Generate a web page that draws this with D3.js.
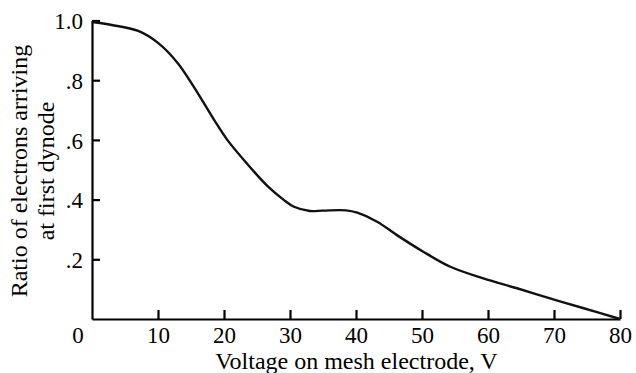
<!DOCTYPE html>
<html>
<head>
<meta charset="utf-8">
<script src="https://cdn.jsdelivr.net/npm/d3@7"></script>
<style>
  html, body { margin: 0; padding: 0; background: #fff; }
  svg { display: block; }
</style>
</head>
<body>
<svg id="chart" width="636" height="373"></svg>
<script>
// Data
const voltage = [0, 3, 7, 10, 13, 15.5, 18.5, 20.5, 23.5, 26.6, 29, 30.6, 33, 35, 38.5, 40.2, 43.2, 46.2, 50, 54.3, 59.3, 64.4, 69.4, 74.5, 80];
const ratio   = [0.995, 0.985, 0.965, 0.925, 0.857, 0.775, 0.667, 0.60, 0.52, 0.445, 0.40, 0.376, 0.362, 0.363, 0.364, 0.356, 0.326, 0.281, 0.228, 0.175, 0.136, 0.103, 0.069, 0.036, 0.0];
const xTicks = [10, 20, 30, 40, 50, 60, 70, 80];
const yTicks = [0.2, 0.4, 0.6, 0.8, 1.0];
const yTickLabels = [".2", ".4", ".6", ".8", "1.0"];
const xOriginLabel = "0";
const xTitle = "Voltage on mesh electrode, V";
const yTitleLines = ["Ratio of electrons arriving", "at first dynode"];

const SERIF = "'Liberation Serif', 'Times New Roman', serif";
const svg = d3.select("#chart");
const margin = { left: 92, right: 16, top: 20.5, bottom: 54 };
const W = 636, H = 373;

const x = d3.scaleLinear().domain([0, 80]).range([margin.left, W - margin.right]);
const y = d3.scaleLinear().domain([0, 1]).range([H - margin.bottom, margin.top]);

// X axis
const xAxis = d3.axisBottom(x)
  .tickValues(xTicks)
  .tickFormat(d3.format("d"))
  .tickSizeInner(-9)
  .tickSizeOuter(0)
  .tickPadding(6);
const gx = svg.append("g")
  .attr("transform", `translate(0,${y(0)})`)
  .call(xAxis)
  .attr("font-family", null).attr("font-size", null);
gx.select(".domain").attr("stroke", "#000").attr("stroke-width", 2.2);
gx.selectAll(".tick line").attr("stroke", "#000").attr("stroke-width", 2.2);
gx.selectAll(".tick text")
  .style("font-family", SERIF)
  .style("font-size", "23px")
  .attr("fill", "#000")
  .attr("y", 0).attr("dy", 24);

// origin label "0"
svg.append("text")
  .attr("x", x(0) - 14)
  .attr("y", y(0) + 24)
  .attr("text-anchor", "middle")
  .style("font-family", SERIF)
  .style("font-size", "23px")
  .text(xOriginLabel);

// Y axis
const yAxis = d3.axisLeft(y)
  .tickValues(yTicks)
  .tickFormat((d, i) => yTickLabels[i])
  .tickSizeInner(-8)
  .tickSizeOuter(0)
  .tickPadding(9);
const gy = svg.append("g")
  .attr("transform", `translate(${x(0)},0)`)
  .call(yAxis)
  .attr("font-family", null).attr("font-size", null);
gy.select(".domain").attr("stroke", "#000").attr("stroke-width", 2.2);
gy.selectAll(".tick line").attr("stroke", "#000").attr("stroke-width", 2.2);
gy.selectAll(".tick text")
  .style("font-family", SERIF)
  .style("font-size", "23px")
  .attr("fill", "#000")
  .attr("dy", "0.36em");

// Curve
const line = d3.line()
  .x((d, i) => x(voltage[i]))
  .y((d, i) => y(ratio[i]))
  .curve(d3.curveCatmullRom.alpha(0.5));
svg.append("path")
  .datum(ratio)
  .attr("d", line)
  .attr("fill", "none")
  .attr("stroke", "#111")
  .attr("stroke-width", 2.4)
  .attr("stroke-linejoin", "round");

// X title
svg.append("text")
  .attr("x", 356.5)
  .attr("y", 369)
  .attr("text-anchor", "middle")
  .style("font-family", SERIF)
  .style("font-size", "24px")
  .text(xTitle);

// Y title (two lines, rotated)
const yt = svg.append("text")
  .attr("transform", `translate(27,171) rotate(-90)`)
  .attr("text-anchor", "middle")
  .style("font-family", SERIF)
  .style("font-size", "24px");
yt.selectAll("tspan")
  .data(yTitleLines)
  .join("tspan")
  .attr("x", 0)
  .attr("dy", (d, i) => i === 0 ? 0 : 27)
  .text(d => d);
</script>
</body>
</html>
